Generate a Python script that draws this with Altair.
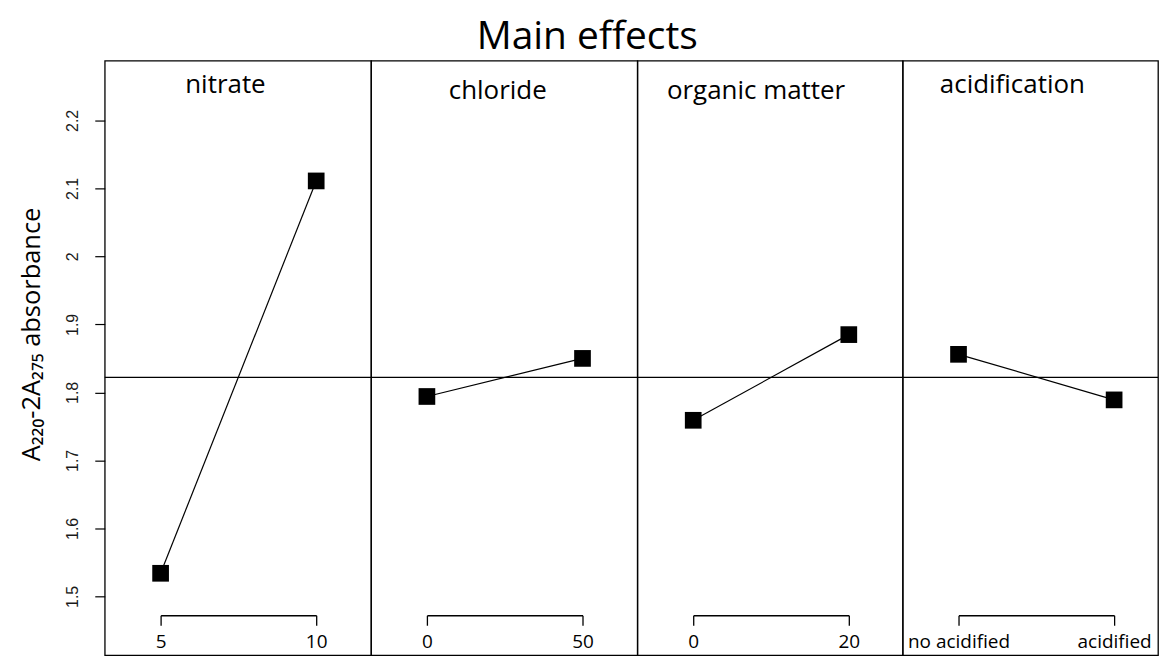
import altair as alt
import pandas as pd

# ---- data ----
FACTORS = ["nitrate", "chloride", "organic matter", "acidification"]
LEVELS = [["5", "10"], ["0", "50"], ["0", "20"], ["no acidified", "acidified"]]
MEANS = [[1.534, 2.111], [1.794, 1.850], [1.759, 1.885], [1.856, 1.789]]
GRAND_MEAN = 1.822
Y_TICKS = [1.5, 1.6, 1.7, 1.8, 1.9, 2.0, 2.1, 2.2]
TITLE = "Main effects"
Y_TITLE = "A₂₂₀-2A₂₇₅ absorbance"

# ---- layout / style ----
Y_DOMAIN = [1.4136, 2.2878]
PANEL_W = [267, 267, 266, 256]
H = 596
LABEL_POS = [(121, 32), (127, 38), (119, 38), (110, 32)]
TEXT_FONT = "Open Sans"

yscale = alt.Scale(domain=Y_DOMAIN, nice=False, zero=False)
yaxis = alt.Axis(
    title=Y_TITLE, values=Y_TICKS, format="~g", grid=False, domain=False,
    tickSize=10, tickColor="black", tickWidth=1.2,
    labelAngle=270, labelFont="Liberation Sans", labelFontSize=16,
    labelColor="#1a1a1a", labelPadding=14,
    titleFont=TEXT_FONT, titleFontSize=25.5, titleFontWeight="normal",
    titleColor="black", titlePadding=20, titleY=274,
)

panels = []
for i, (fac, lv, mv) in enumerate(zip(FACTORS, LEVELS, MEANS)):
    df = pd.DataFrame({"level": lv, "value": mv})
    ax = yaxis if i == 0 else None
    xenc = alt.X(
        "level:N", sort=lv,
        scale=alt.Scale(type="point", range=[56, 212], padding=0),
        axis=alt.Axis(
            title=None, offset=-40, labelAngle=0, grid=False,
            tickSize=10, tickColor="black", tickWidth=1.3,
            domainColor="black", domainWidth=1.3,
            labelFont=TEXT_FONT, labelFontSize=19, labelColor="black",
            labelPadding=7,
        ),
    )
    if ax is None:
        yenc = alt.Y("value:Q", scale=yscale, axis=None)
        ymean = alt.Y("m:Q", scale=yscale, axis=None)
    else:
        yenc = alt.Y("value:Q", scale=yscale, axis=ax)
        ymean = alt.Y("m:Q", scale=yscale, axis=ax)

    mean = alt.Chart(pd.DataFrame({"m": [GRAND_MEAN]})).mark_rule(
        color="black", strokeWidth=1.2
    ).encode(y=ymean)
    base = alt.Chart(df)
    line = base.mark_line(color="black", strokeWidth=1.2).encode(x=xenc, y=yenc)
    pts = base.mark_square(size=280, color="black", opacity=1).encode(x=xenc, y=yenc)
    label = alt.Chart(pd.DataFrame({"t": [fac]})).mark_text(
        font=TEXT_FONT, fontSize=26, align="center", baseline="alphabetic",
        color="black",
    ).encode(
        text="t:N",
        x=alt.value(LABEL_POS[i][0]),
        y=alt.value(LABEL_POS[i][1]),
    )
    panels.append(
        alt.layer(mean, line, pts, label).properties(width=PANEL_W[i], height=H)
    )

chart = alt.hconcat(*panels, spacing=0, bounds="flush").properties(
    title=alt.TitleParams(
        TITLE, font=TEXT_FONT, fontSize=39, fontWeight="normal",
        color="black", anchor="middle", dx=-2, offset=3,
    ),
    padding={"left": 11, "top": 9, "right": 0, "bottom": 0},
    background="white",
).configure_view(
    stroke="black", strokeWidth=1.3
)

chart.save("out.html", embed_options={"renderer": "svg", "actions": False})
